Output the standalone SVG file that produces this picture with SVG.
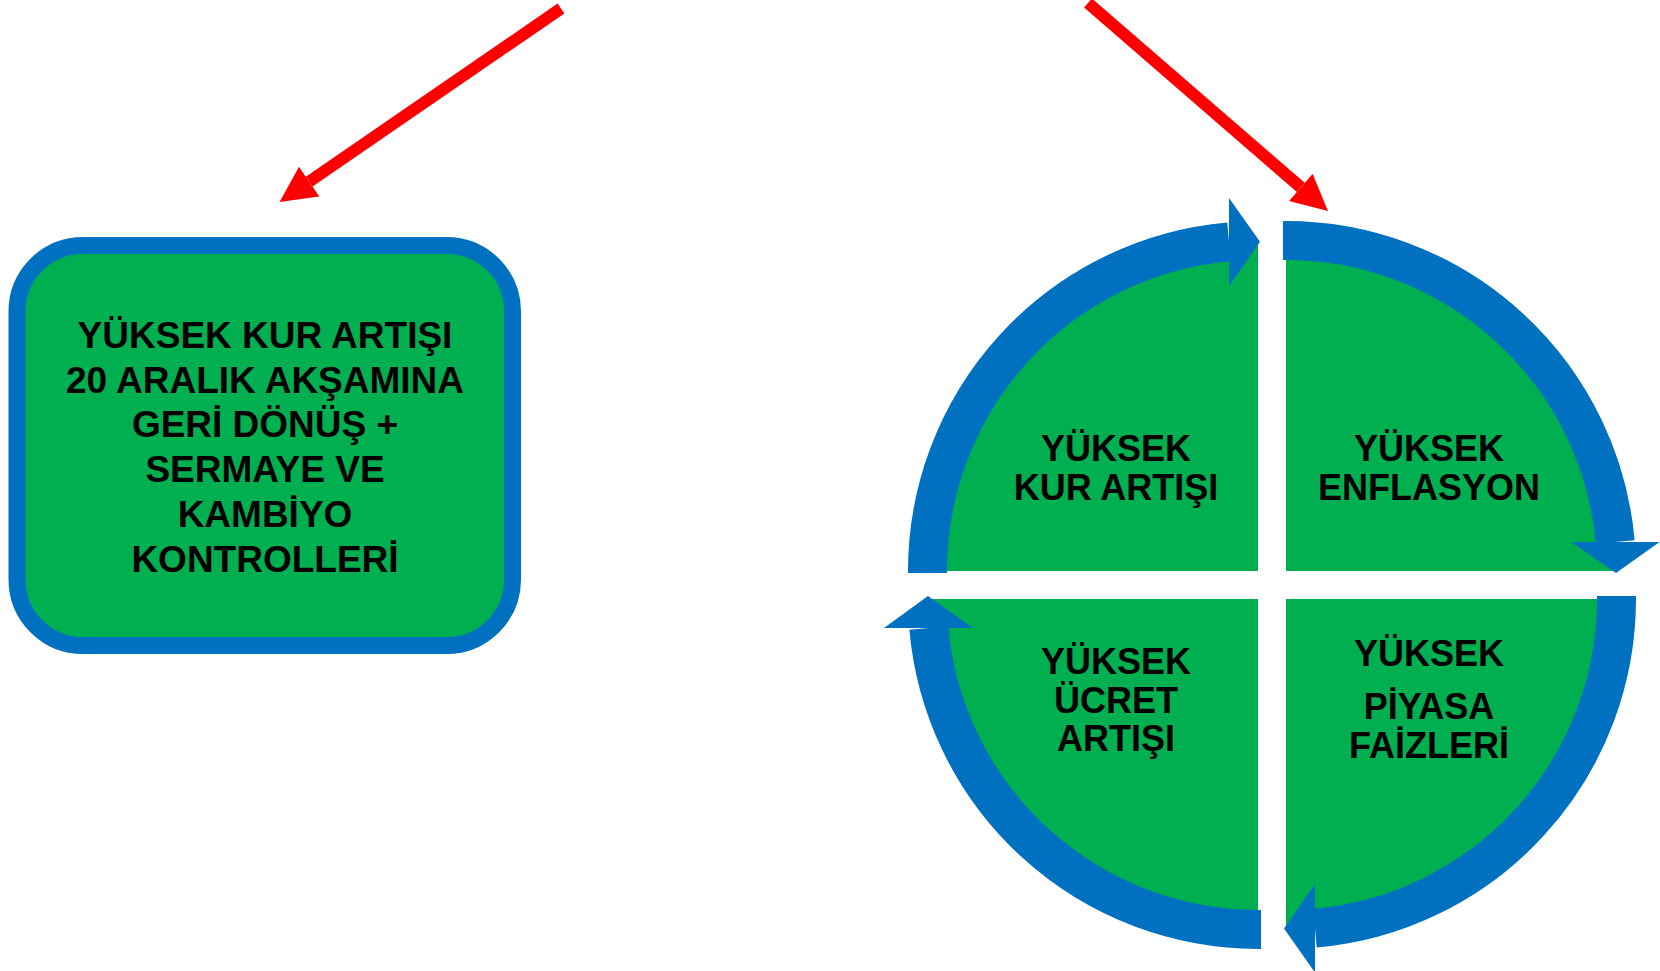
<svg xmlns="http://www.w3.org/2000/svg" width="1660" height="971" viewBox="0 0 1660 971">
<defs>
<style>
.lbl{font-family:"Liberation Sans",Arial,sans-serif;font-weight:bold;fill:#000;text-anchor:middle}
.q{fill:#00B050}
.ring{fill:none;stroke:#0070C0;stroke-width:39;stroke-linecap:butt}
.head{fill:#0070C0}
.red{stroke:#FF0000;stroke-width:12;fill:none}
</style>
<marker id="redHead" markerUnits="userSpaceOnUse" viewBox="0 0 36 36" markerWidth="36" markerHeight="36" refX="0" refY="18" orient="auto">
<path d="M0 0 L36 18 L0 36 Z" fill="#FF0000"/>
</marker>
</defs>
<rect width="1660" height="971" fill="#fff"/>

<g id="box-controls">
<rect x="17" y="245.5" width="495.5" height="400" rx="66" ry="66" fill="#00B050" stroke="#0070C0" stroke-width="17"/>
<text class="lbl" font-size="37" x="265" y="348">YÜKSEK KUR ARTIŞI</text>
<text class="lbl" font-size="37" x="265" y="393">20 ARALIK AKŞAMINA</text>
<text class="lbl" font-size="37" x="265" y="437">GERİ DÖNÜŞ +</text>
<text class="lbl" font-size="37" x="265" y="482">SERMAYE VE</text>
<text class="lbl" font-size="37" x="265" y="527">KAMBİYO</text>
<text class="lbl" font-size="37" x="265" y="572">KONTROLLERİ</text>
</g>

<g id="q-kur">
<path class="q" d="M1258 571 L927.5 571 A330.5 330.5 0 0 1 1258 240.5 Z"/>
<text class="lbl" font-size="36" x="1116" y="461">YÜKSEK</text>
<text class="lbl" font-size="36" x="1116" y="500">KUR ARTIŞI</text>
</g>
<g id="q-enflasyon">
<path class="q" d="M1286 571 L1286 240.5 A330.5 330.5 0 0 1 1616.5 571 Z"/>
<text class="lbl" font-size="36" x="1429" y="461">YÜKSEK</text>
<text class="lbl" font-size="36" x="1429" y="500">ENFLASYON</text>
</g>
<g id="q-faiz">
<path class="q" d="M1286 599 L1616.5 599 A330.5 330.5 0 0 1 1286 929.5 Z"/>
<text class="lbl" font-size="36" x="1429" y="666">YÜKSEK</text>
<text class="lbl" font-size="36" x="1429" y="719">PİYASA</text>
<text class="lbl" font-size="36" x="1429" y="758">FAİZLERİ</text>
</g>
<g id="q-ucret">
<path class="q" d="M1258 599 L1258 929.5 A330.5 330.5 0 0 1 927.5 599 Z"/>
<text class="lbl" font-size="36" x="1116" y="674">YÜKSEK</text>
<text class="lbl" font-size="36" x="1116" y="713">ÜCRET</text>
<text class="lbl" font-size="36" x="1116" y="751">ARTIŞI</text>
</g>

<g id="connectors">
<path class="ring" d="M927.5 573 L927.5 571 A330.5 330.5 0 0 1 1229 241.8"/>
<polygon class="head" points="1229,198 1229,286 1260,241.8"/>
<path class="ring" d="M1283 240.5 L1286 240.5 A330.5 330.5 0 0 1 1615.2 542"/>
<polygon class="head" points="1571,542 1659.5,542 1616,573"/>
<path class="ring" d="M1616.5 596 L1616.5 599 A330.5 330.5 0 0 1 1315 928.2"/>
<polygon class="head" points="1315,884 1315,972.5 1284,928.5"/>
<path class="ring" d="M1261 929.5 L1258 929.5 A330.5 330.5 0 0 1 928.8 628"/>
<polygon class="head" points="884,628 973,628 928,596"/>
<path class="red" d="M561 8.5 L309.2 181.6" marker-end="url(#redHead)"/>
<path class="red" d="M1088 3 L1300.8 187.4" marker-end="url(#redHead)"/>
</g>
</svg>
